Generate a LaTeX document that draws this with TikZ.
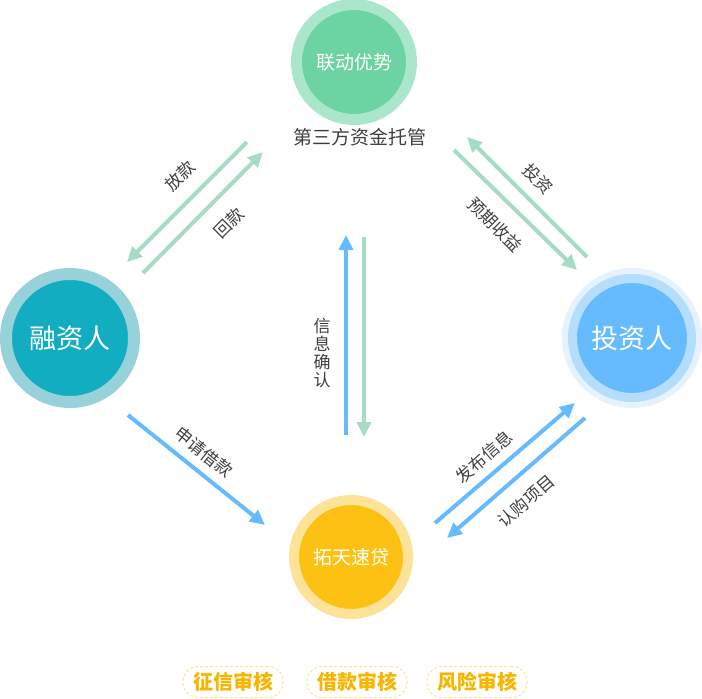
\documentclass[tikz,border=0pt]{standalone}
\usepackage{fontspec}
\setmainfont{Noto Sans CJK SC}
\usetikzlibrary{arrows.meta,positioning}
\definecolor{lianfill}{HTML}{6CD3A2}
\definecolor{lianring}{HTML}{A9E6CB}
\definecolor{rongfill}{HTML}{13ADC1}
\definecolor{rongring}{HTML}{97D1DA}
\definecolor{toufill}{HTML}{66BBFF}
\definecolor{touring}{HTML}{B5DDFE}
\definecolor{touhalo}{HTML}{E6F3FE}
\definecolor{tuofill}{HTML}{FDC113}
\definecolor{tuoring}{HTML}{FDE398}
\definecolor{flowgreen}{HTML}{A6DCC3}
\definecolor{flowblue}{HTML}{66BBFF}
\definecolor{labelgray}{HTML}{3F3F3F}
\definecolor{audittext}{HTML}{F7B500}
\definecolor{auditline}{HTML}{FDE3A0}
\tikzset{
    party/.style={
                circle,
                inner sep=0pt,
                text=white,
                font=\fontsize{27}{27}\selectfont
            },
        hub/.style={
                circle,
                inner sep=0pt,
                text=white,
                font=\fontsize{19}{19}\selectfont
            },
        greenflow/.style={
                draw=flowgreen,
                line width=4pt,
                -{Triangle[length=15pt,width=14pt]}
            },
        blueflow/.style={
                draw=flowblue,
                line width=4pt,
                -{Triangle[length=15pt,width=14pt]}
            },
        flowlabel/.style={
                text=labelgray,
                inner sep=0pt,
                font=\fontsize{17}{18}\selectfont
            },
        audit/.style={
                draw=auditline,
                dash pattern=on 3pt off 2pt,
                line width=1pt,
                rounded corners=15pt,
                minimum width=100pt,
                minimum height=31pt,
                text=audittext,
                font=\fontsize{20}{20}\selectfont\bfseries
            }
}
\begin{document}
\begin{tikzpicture}[x=1pt,y=-1pt]
  \useasboundingbox (0,0) rectangle (702,699);
  % Parties
  \node[hub, fill=lianfill, draw=lianring, line width=11pt, minimum size=115pt] (lian) at (354,62) {联动优势};
  \node[flowlabel, font=\fontsize{19}{19}\selectfont] (tuoguan) at (360,137) {第三方资金托管};
  \node[party, fill=rongfill, draw=rongring, line width=12pt, minimum size=128pt] (rong) at (70,338) {融资人};
  \node[party, fill=toufill, draw=touring, line width=9pt, minimum size=119pt,
        preaction={draw=touhalo, line width=21pt}] (tou) at (632,338) {投资人};
  \node[hub, fill=tuofill, draw=tuoring, line width=10pt, minimum size=114pt] (tuo) at (351,557) {拓天速贷};
  % Arrow ends
  \coordinate (fangkuan-a) at (247,142);
  \coordinate (fangkuan-b) at (127,262);
  \coordinate (huikuan-a) at (143,273);
  \coordinate (huikuan-b) at (263,152);
  \coordinate (touzi-a) at (587,257);
  \coordinate (touzi-b) at (467,137);
  \coordinate (shouyi-a) at (454,150);
  \coordinate (shouyi-b) at (577,270);
  \coordinate (queren-a) at (346,435);
  \coordinate (queren-b) at (346,235);
  \coordinate (queren-c) at (364,237);
  \coordinate (queren-d) at (364,437);
  \coordinate (shenqing-a) at (128,415);
  \coordinate (shenqing-b) at (265,525);
  \coordinate (fabu-a) at (435,523);
  \coordinate (fabu-b) at (575,403);
  \coordinate (rengou-a) at (585,418);
  \coordinate (rengou-b) at (447,538);
  % Flows
  \draw[greenflow] (fangkuan-a) -- (fangkuan-b);
  \draw[greenflow] (huikuan-a) -- (huikuan-b);
  \draw[greenflow] (touzi-a) -- (touzi-b);
  \draw[greenflow] (shouyi-a) -- (shouyi-b);
  \draw[blueflow] (queren-a) -- (queren-b);
  \draw[greenflow] (queren-c) -- (queren-d);
  \draw[blueflow] (shenqing-a) -- (shenqing-b);
  \draw[blueflow] (fabu-a) -- (fabu-b);
  \draw[blueflow] (rengou-a) -- (rengou-b);
  % Flow labels
  \node[flowlabel, rotate=45] (fangkuan) at (180,176) {放款};
  \node[flowlabel, rotate=45] (huikuan) at (229,223) {回款};
  \node[flowlabel, rotate=-45] (touzi) at (538,179) {投资};
  \node[flowlabel, rotate=-45] (shouyi) at (495,225) {预期收益};
  \node[flowlabel, align=center] (queren) at (322,353) {信\\息\\确\\认};
  \node[flowlabel, rotate=-39] (shenqing) at (204,452) {申请借款};
  \node[flowlabel, rotate=41] (fabu) at (484,457) {发布信息};
  \node[flowlabel, rotate=41] (rengou) at (526,501) {认购项目};
  % Audits
  \node[audit] (zhengxin) at (233,682) {征信审核};
  \node[audit] (jiekuan) at (357,682) {借款审核};
  \node[audit] (fengxian) at (477,682) {风险审核};
\end{tikzpicture}
\end{document}
